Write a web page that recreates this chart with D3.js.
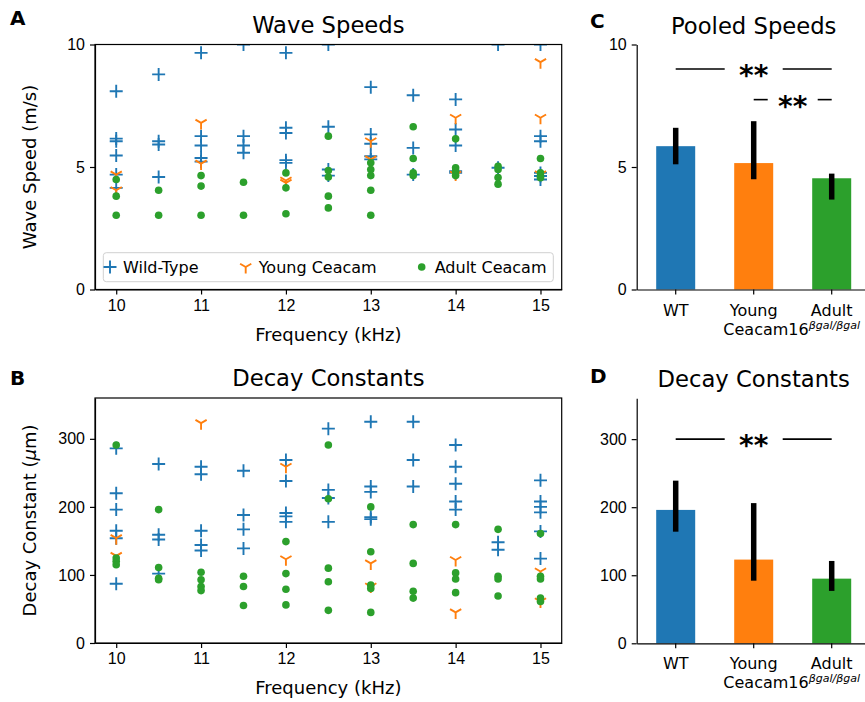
<!DOCTYPE html>
<html>
<head>
<meta charset="utf-8">
<script src="https://cdn.jsdelivr.net/npm/d3@7"></script>
<style>
  body { margin: 0; background: #fff; }
  svg { font-family: "DejaVu Sans", sans-serif; }
  .axis path, .axis line { stroke: #000; stroke-width: 1.2; }
  .axis text { font-size: 16px; fill: #000; }
</style>
</head>
<body>
<script>
// frequencies (kHz) and per-frequency values
const freqs = [10, 10.5, 11, 11.5, 12, 12.5, 13, 13.5, 14, 14.5, 15];

const speedWT = [
  [8.09, 6.16, 6.05, 5.47, 4.69, 4.15], [8.78, 6.05, 5.92, 4.59], [9.66, 6.26, 5.88, 5.37, 5.22],
  [10.0, 6.26, 5.88, 5.58], [9.66, 6.60, 6.39, 5.28, 5.17], [10.0, 6.64, 4.90, 4.65],
  [8.26, 6.33, 5.95, 5.44, 5.31], [7.93, 5.78, 4.69], [7.76, 6.53, 5.88, 4.83, 4.76],
  [10.0, 4.97], [10.0, 6.26, 6.05, 4.76, 4.63, 4.49]
];
const speedYoung = [
  [4.69, 4.05], [], [6.80, 5.14], [], [4.45, 4.35], [], [6.05, 5.31], [], [7.01, 4.69], [], [9.28, 7.01, 4.70]
];
const speedAdult = [
  [4.49, 3.81, 3.03], [4.05, 3.03], [4.65, 4.22, 3.03], [4.38, 3.03], [4.76, 4.15, 3.09],
  [6.26, 4.86, 4.59, 3.81, 3.33], [5.17, 4.90, 4.65, 4.05, 3.03], [6.64, 5.35, 4.76, 4.65],
  [6.15, 4.97, 4.83, 4.65], [5.03, 4.90, 4.57, 4.30], [5.35, 4.76, 4.63, 4.56]
];

const decayWT = [
  [286, 220, 196, 165, 154, 87], [263, 159, 152, 102], [259, 248, 165, 144, 136], [253, 188, 167, 139],
  [269, 238, 191, 186, 178], [315, 225, 213, 178], [325, 230, 222, 185, 182], [325, 269, 230],
  [291, 259, 234, 208, 196], [148, 137], [239, 208, 200, 192, 164, 124]
];
const decayYoung = [
  [154, 128], [], [323], [], [259, 123], [], [117, 83], [], [122, 45], [], [105, 61]
];
const decayAdult = [
  [291, 125, 120, 115], [196, 111, 95, 93], [104, 93, 83, 77], [98, 83, 55], [149, 102, 79, 56],
  [291, 212, 110, 90, 48], [200, 134, 85, 80, 45], [174, 117, 76, 66], [174, 103, 94, 74],
  [167, 98, 94, 69], [161, 98, 94, 66, 61]
];

// pooled bars
const groups = ['WT', 'Young', 'Adult'];
const groupColors = ['#1f77b4', '#ff7f0e', '#2ca02c'];
const speedMeans = [5.85, 5.16, 4.54];
const speedLow = [5.11, 4.50, 3.67];
const speedHigh = [6.60, 6.87, 4.73];
const decayMeans = [196, 123, 95];
const decayLow = [164, 92, 77];
const decayHigh = [239, 206, 121];
const speedSig = [[0, 2, 9], [1, 2, 7.75]];
const decaySig = [[0, 2, 300]];

const speedTicks = [0, 5, 10];
const decayTicks = [0, 100, 200, 300];
const freqTicks = [10, 11, 12, 13, 14, 15];

const svg = d3.select('body').append('svg')
  .attr('width', 865)
  .attr('height', 702);

const markers = {
  plus: 'M-6.5,0H6.5M0,-6.5V6.5',
  tri: 'M0,0V6.5M0,0L-5.6,-3.25M0,0L5.6,-3.25'
};

function flatten(lists) {
  let out = [];
  lists.forEach((vals, i) => vals.forEach(v => out.push({ f: freqs[i], v: v })));
  return out;
}

function scatterPanel(opts) {
  let x = d3.scaleLinear().domain([9.75, 15.25]).range([95, 561.7]);
  let y = d3.scaleLinear().domain(opts.domain).range(opts.yRange);
  let g = svg.append('g');

  let clipId = 'clip' + opts.id;
  svg.append('clipPath').attr('id', clipId)
    .append('rect')
    .attr('x', x.range()[0]).attr('y', y.range()[1])
    .attr('width', x.range()[1] - x.range()[0])
    .attr('height', y.range()[0] - y.range()[1]);

  let plot = g.append('g').attr('clip-path', 'url(#' + clipId + ')');

  plot.selectAll('.wt').data(flatten(opts.wt)).enter().append('path')
    .attr('d', markers.plus)
    .attr('transform', d => `translate(${x(d.f)},${y(d.v)})`)
    .attr('stroke', groupColors[0]).attr('stroke-width', 1.9).attr('fill', 'none');

  plot.selectAll('.young').data(flatten(opts.young)).enter().append('path')
    .attr('d', markers.tri)
    .attr('transform', d => `translate(${x(d.f)},${y(d.v)})`)
    .attr('stroke', groupColors[1]).attr('stroke-width', 1.9).attr('fill', 'none');

  plot.selectAll('.adult').data(flatten(opts.adult)).enter().append('circle')
    .attr('cx', d => x(d.f)).attr('cy', d => y(d.v)).attr('r', 3.8)
    .attr('fill', groupColors[2]);

  // axes with full frame
  g.append('g').attr('class', 'axis')
    .attr('transform', `translate(0,${y.range()[0]})`)
    .call(d3.axisBottom(x).tickValues(freqTicks).tickFormat(d3.format('d'))
      .tickSize(5).tickPadding(5).tickSizeOuter(0));
  g.append('g').attr('class', 'axis')
    .attr('transform', `translate(${x.range()[0]},0)`)
    .call(d3.axisLeft(y).tickValues(opts.ticks).tickSize(5).tickPadding(5).tickSizeOuter(0));
  g.append('rect')
    .attr('x', x.range()[0]).attr('y', y.range()[1])
    .attr('width', x.range()[1] - x.range()[0])
    .attr('height', y.range()[0] - y.range()[1])
    .attr('fill', 'none').attr('stroke', '#000').attr('stroke-width', 1.2);

  g.append('text')
    .attr('x', (x.range()[0] + x.range()[1]) / 2).attr('y', y.range()[1] - 12)
    .attr('text-anchor', 'middle').attr('font-size', 22.7)
    .text(opts.title);
  g.append('text')
    .attr('x', (x.range()[0] + x.range()[1]) / 2).attr('y', y.range()[0] + 51)
    .attr('text-anchor', 'middle').attr('font-size', 18)
    .text('Frequency (kHz)');

  let yl = g.append('text')
    .attr('transform', `translate(36,${(y.range()[0] + y.range()[1]) / 2}) rotate(-90)`)
    .attr('text-anchor', 'middle').attr('font-size', 18);
  opts.ylabel(yl);

  return { g: g, x: x, y: y };
}

let a = scatterPanel({
  id: 'A', domain: [0, 10], yRange: [289.5, 44.5], ticks: speedTicks,
  wt: speedWT, young: speedYoung, adult: speedAdult, title: 'Wave Speeds',
  ylabel: t => t.text('Wave Speed (m/s)')
});

scatterPanel({
  id: 'B', domain: [0, 360], yRange: [643, 398], ticks: decayTicks,
  wt: decayWT, young: decayYoung, adult: decayAdult, title: 'Decay Constants',
  ylabel: t => {
    t.append('tspan').text('Decay Constant (');
    t.append('tspan').attr('font-style', 'italic').text('μ');
    t.append('tspan').text('m)');
  }
});

// legend for panel A
const legendItems = [
  { label: 'Wild-Type', kind: 'plus', x: 110 },
  { label: 'Young Ceacam', kind: 'tri', x: 245.7 },
  { label: 'Adult Ceacam', kind: 'dot', x: 421.7 }
];
let legend = a.g.append('g');
legend.append('rect')
  .attr('x', 103.3).attr('y', 252.7).attr('width', 450).attr('height', 29)
  .attr('rx', 3).attr('fill', '#fff').attr('fill-opacity', 0.8)
  .attr('stroke', '#d0d0d0').attr('stroke-width', 1);
legendItems.forEach((it, i) => {
  let cy = 267;
  if (it.kind === 'dot') {
    legend.append('circle').attr('cx', it.x).attr('cy', cy).attr('r', 3.8).attr('fill', groupColors[i]);
  } else {
    legend.append('path').attr('d', markers[it.kind])
      .attr('transform', `translate(${it.x},${cy})`)
      .attr('stroke', groupColors[i]).attr('stroke-width', 1.9).attr('fill', 'none');
  }
  legend.append('text').attr('x', it.x + 13).attr('y', cy + 5.8)
    .attr('font-size', 16).text(it.label);
});

function barPanel(opts) {
  let x = d3.scaleBand().domain(groups).range([636.7, 870.7]).paddingInner(0.5).paddingOuter(0.25);
  let y = d3.scaleLinear().domain(opts.domain).range(opts.yRange);
  let g = svg.append('g');

  g.selectAll('.bar').data(groups).enter().append('rect')
    .attr('x', d => x(d)).attr('width', x.bandwidth())
    .attr('y', (d, i) => y(opts.means[i]))
    .attr('height', (d, i) => y(0) - y(opts.means[i]))
    .attr('fill', (d, i) => groupColors[i]);

  g.selectAll('.err').data(groups).enter().append('line')
    .attr('x1', d => x(d) + x.bandwidth() / 2).attr('x2', d => x(d) + x.bandwidth() / 2)
    .attr('y1', (d, i) => y(opts.low[i])).attr('y2', (d, i) => y(opts.high[i]))
    .attr('stroke', '#000').attr('stroke-width', 5.5);

  // significance brackets
  opts.sig.forEach(s => {
    let x1 = x(groups[s[0]]) + x.bandwidth() / 2;
    let x2 = x(groups[s[1]]) + x.bandwidth() / 2;
    let xm = (x1 + x2) / 2;
    let yy = y(s[2]);
    let gap = s[1] - s[0] > 1 ? 29 : 25;
    g.append('line').attr('x1', x1).attr('x2', xm - gap).attr('y1', yy).attr('y2', yy)
      .attr('stroke', '#000').attr('stroke-width', 1.6);
    g.append('line').attr('x1', xm + gap).attr('x2', x2).attr('y1', yy).attr('y2', yy)
      .attr('stroke', '#000').attr('stroke-width', 1.6);
    g.append('text').attr('x', xm).attr('y', yy + 16)
      .attr('text-anchor', 'middle').attr('font-size', 28).attr('font-weight', 'bold')
      .text('**');
  });

  g.append('g').attr('class', 'axis')
    .attr('transform', `translate(0,${y.range()[0]})`)
    .call(d3.axisBottom(x).tickSize(5).tickSizeOuter(0).tickFormat(''));
  g.append('g').attr('class', 'axis')
    .attr('transform', `translate(${x.range()[0]},0)`)
    .call(d3.axisLeft(y).tickValues(opts.ticks).tickSize(5).tickPadding(5).tickSizeOuter(0));

  let base = y.range()[0];
  groups.forEach(d => {
    g.append('text').attr('x', x(d) + x.bandwidth() / 2).attr('y', base + 26)
      .attr('text-anchor', 'middle').attr('font-size', 16).text(d);
  });
  let sub = g.append('text')
    .attr('x', (x('Young') + x('Adult')) / 2 + x.bandwidth() / 2 - 1).attr('y', base + 45)
    .attr('text-anchor', 'middle').attr('font-size', 16);
  sub.append('tspan').text('Ceacam16');
  sub.append('tspan').attr('font-size', 11).attr('font-style', 'italic')
    .attr('dy', -6).text('βgal/βgal');

  g.append('text').attr('x', 753.7).attr('y', y.range()[1] - 11)
    .attr('text-anchor', 'middle').attr('font-size', 22.7).text(opts.title);
}

barPanel({
  domain: [0, 10], yRange: [289.5, 44.5], ticks: speedTicks,
  means: speedMeans, low: speedLow, high: speedHigh, sig: speedSig, title: 'Pooled Speeds'
});
barPanel({
  domain: [0, 360], yRange: [643.3, 398.3], ticks: decayTicks,
  means: decayMeans, low: decayLow, high: decayHigh, sig: decaySig, title: 'Decay Constants'
});

// panel letters
[['A', 10, 25], ['B', 10, 385], ['C', 590, 28], ['D', 590, 383]].forEach(p => {
  svg.append('text').attr('x', p[1]).attr('y', p[2])
    .attr('font-size', 20).attr('font-weight', 'bold').text(p[0]);
});
</script>
</body>
</html>
